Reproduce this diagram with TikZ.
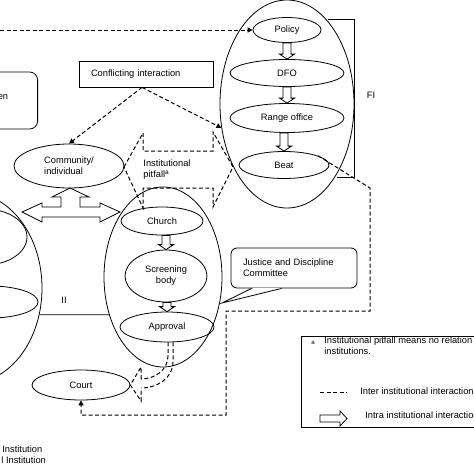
\documentclass[tikz,border=0pt]{standalone}
\usepackage{fontspec}
\setmainfont{Liberation Sans}
\usetikzlibrary{shapes.geometric, arrows.meta, calc}

% hollow arrow from the bottom of one node to the top of the next
\newcommand{\intraarrow}[2]{%
  \draw[fill=white] let \p1=(#1), \p2=(#2) in
    (\x2-4pt,\y1) -- (\x2+4pt,\y1) -- (\x2+4pt,\y2+5pt) -- (\x2+7.5pt,\y2+5pt)
    -- (\x2,\y2) -- (\x2-7.5pt,\y2+5pt) -- (\x2-4pt,\y2+5pt) -- cycle;}

\begin{document}
\begin{tikzpicture}[x=1pt, y=-1pt, line width=0.8pt,
    font=\fontsize{9.3}{11}\selectfont,
    unit/.style={ellipse, draw, inner sep=0pt},
    txt/.style={inner sep=0pt, align=left},
    inter/.style={line width=1pt, dash pattern=on 4pt off 2.5pt},
    arr/.style={-{Triangle[length=5pt,width=5pt]}}]
    \path[use as bounding box, fill=white] (0,0) rectangle (474,474);

    % Formal institution
    \node[unit, minimum width=134, minimum height=208] (fi) at (287,104) {};
    \node[unit, minimum width=68, minimum height=25] (policy) at (287,30) {Policy};
    \node[unit, minimum width=114, minimum height=27] (dfo) at (287,73) {DFO};
    \node[unit, minimum width=114, minimum height=29] (range) at (287,118) {Range office\hspace{14pt}};
    \node[unit, minimum width=90, minimum height=27] (beat) at (284,165) {Beat\hspace{24pt}};
    \intraarrow{policy.south}{dfo.north}
    \intraarrow{dfo.south}{range.north}
    \intraarrow{range.south}{beat.north}
    \draw (328,19) -- (354,19) -- (354,177) -- (337,177);
    \node[txt] (filabel) at (371,95) {FI};

    % Informal institution
    \node[unit, minimum width=118, minimum height=180] (ii) at (163,277) {};
    \node[unit, minimum width=82, minimum height=28] (church) at (162,221) {Church};
    \node[unit, minimum width=82, minimum height=52, align=center] (screening) at (166,276) {Screening\\body};
    \node[unit, minimum width=94, minimum height=30] (approval) at (167,327) {Approval};
    \intraarrow{church.south}{screening.north}
    \intraarrow{screening.south}{approval.north}

    % Left institution
    \node[unit, minimum width=144, minimum height=190] (leftinst) at (-30,288) {};
    \node[unit, minimum width=84, minimum height=56] (leftup) at (-15,237) {};
    \node[unit, minimum width=96, minimum height=32] (leftlow) at (-10,302) {};
    \draw (leftinst.-21.4) -- (ii.215.4);
    \node[txt] (iilabel) at (64,300) {II};
    \node[draw, rounded corners=8, minimum width=70, minimum height=57, anchor=east] (enbox) at (38,100.5) {};
    \node[txt, anchor=east] (entext) at (8.5,97) {en};

    % Community and court
    \node[unit, minimum width=110, minimum height=44, align=left] (community) at (69,166) {Community/\\individual};
    \node[unit, minimum width=98, minimum height=30] (court) at (81,385) {Court};
    \draw[fill=white] (22,212) -- (42,203) -- (42,207) -- (61,207) -- (61,197) -- (52,197)
        -- (70,188) -- (89,197) -- (80,197) -- (80,207) -- (100,207) -- (100,203)
        -- (120,212) -- (100,222) -- (100,217) -- (42,217) -- (42,222) -- cycle;

    % Conflicting interaction
    \node[draw, minimum height=26, text width=110, inner xsep=12, align=left] (conflict) at (146,74) {Conflicting interaction};
    \draw[inter, arr] ($(conflict.south)+(-4,0)$) -- (community.north);
    \draw[inter, arr] ($(conflict.south)+(-4,0)$) -- (fi.200);
    \coordinate (leftend) at (0,30);
    \draw[inter, arr] (leftend) -- (policy.west);

    % Institutional pitfall
    \draw[inter] (124,167) -- (143,133) -- (143,151) -- (213,151) -- (213,132) -- (233,167)
        -- (213,207) -- (213,188) -- (143,188) -- (143,208) -- cycle;
    \node[txt] (pitfall) at (167,170) {Institutional\\pitfall\textsuperscript{a}};

    % Beat to court
    \draw[inter, arr] (beat.15) -- (370,188) -- (370,311) -- (226,311) -- (226,415) -| (court.south);

    % Approval to court
    \draw[inter] ($(approval.south)+(1,0)$) -- (168,356) to[out=-90, in=0] (141,379);
    \draw[inter] ($(approval.south)+(6,0)$) -- (173,362) to[out=-90, in=0] (141,388);
    \draw[inter] (141,379) -- (141,367) -- (court.east) -- (141,401) -- (141,388);

    % Justice and Discipline Committee
    \node[draw, rounded corners=6, minimum height=40, text width=102, inner xsep=12, align=left] (jdc) at (294,268) {Justice and Discipline\\Committee};
    \coordinate (jtip) at (222,303);
    \draw[white, line width=1.4pt] ($(jdc.south west)+(22,0)$) -- ($(jdc.south west)+(50,0)$);
    \draw ($(jdc.south west)+(21,0)$) -- (jtip) -- ($(jdc.south west)+(51,0)$);

    % Legend
    \draw (301,336) rectangle (480,427);
    \node[txt, font=\fontsize{6}{7}\selectfont] (supa) at (313,343) {a};
    \node[txt, anchor=west] (legend1) at (324,346) {Institutional pitfall means no relation\\institutions.};
    \draw[inter] (320,392) -- (347,392);
    \node[txt, anchor=west] (legend2) at (360,391) {Inter institutional interaction};
    \draw[fill=white] (320,415) -- (340,415) -- (340,411) -- (347,418.5) -- (340,426) -- (340,422) -- (320,422) -- cycle;
    \node[txt, anchor=west] (legend3) at (365,415) {Intra institutional interaction};

    % Key
    \node[txt, anchor=west] (key1) at (2,449) {Institution};
    \node[txt, anchor=west] (key2) at (1,460) {l Institution};
\end{tikzpicture}
\end{document}
